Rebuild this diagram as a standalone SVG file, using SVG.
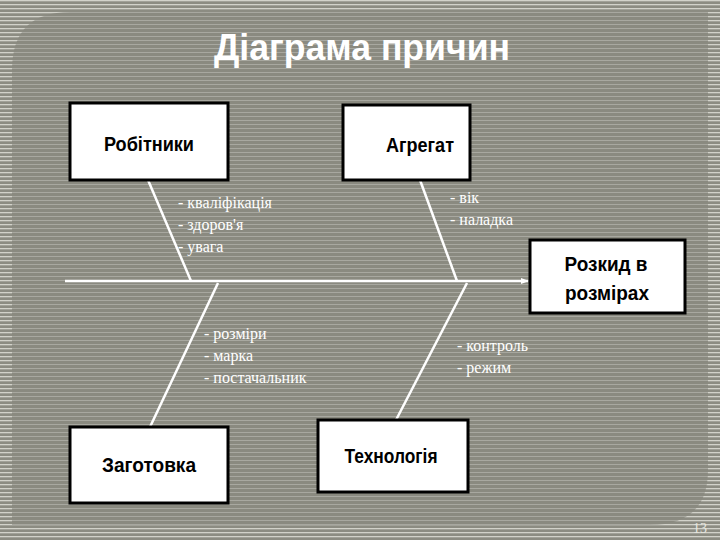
<svg xmlns="http://www.w3.org/2000/svg" width="720" height="540" viewBox="0 0 720 540">
<defs>
<pattern id="s1" width="4" height="4" patternUnits="userSpaceOnUse"><rect width="4" height="4" fill="#8c8c82"/><rect width="4" height="1.3" fill="#d2d2ca"/></pattern>
<pattern id="s2" width="4" height="4" patternUnits="userSpaceOnUse"><rect width="4" height="4" fill="#8a8a80"/><rect width="4" height="1" fill="#a8a8a0"/></pattern>
<marker id="ah" markerWidth="8" markerHeight="8" refX="7" refY="4" orient="auto" markerUnits="userSpaceOnUse"><path d="M0,1 L8,4 L0,7 Z" fill="#fff"/></marker>
<style>
.box{fill:#fff;stroke:#000;stroke-width:3}
.lbl{font-family:"Liberation Sans",sans-serif;font-weight:bold;font-size:21px;fill:#000;text-anchor:middle}
.note{font-family:"Liberation Serif",serif;font-size:16px;fill:#fff}
.ln{stroke:#fff;stroke-width:2.5;fill:none}
</style>
</defs>
<rect width="720" height="540" fill="url(#s1)"/>
<path d="M70,12 H708 V470 Q708,525 650,525 H12 V70 Q12,12 70,12 Z" fill="url(#s2)"/>
<text x="362" y="60" font-family="Liberation Sans, sans-serif" font-size="36" font-weight="bold" fill="#fff" text-anchor="middle" textLength="296" lengthAdjust="spacingAndGlyphs">Діаграма причин</text>
<g id="connectors">
<line class="ln" x1="65" y1="281" x2="528" y2="281" marker-end="url(#ah)"/>
<line class="ln" x1="148" y1="180" x2="191" y2="281"/>
<line class="ln" x1="420" y1="180" x2="457" y2="281"/>
<line class="ln" x1="218" y1="283" x2="150" y2="427"/>
<line class="ln" x1="467" y1="283" x2="396" y2="420"/>
</g>
<g id="robitnyky"><rect class="box" x="70" y="103" width="158" height="77"/><text class="lbl" x="149" y="151" textLength="90" lengthAdjust="spacingAndGlyphs">Робітники</text></g>
<g id="ahrehat"><rect class="box" x="343" y="105" width="127" height="75"/><text class="lbl" x="420" y="152" textLength="68" lengthAdjust="spacingAndGlyphs">Агрегат</text></g>
<g id="rozkyd"><rect class="box" x="530" y="240" width="155" height="73"/><text class="lbl" x="606" y="271" textLength="83" lengthAdjust="spacingAndGlyphs">Розкид в</text><text class="lbl" x="607" y="300" textLength="84" lengthAdjust="spacingAndGlyphs">розмірах</text></g>
<g id="zahotovka"><rect class="box" x="70" y="427" width="158" height="76"/><text class="lbl" x="149" y="472" textLength="94" lengthAdjust="spacingAndGlyphs">Заготовка</text></g>
<g id="tekhnolohiia"><rect class="box" x="318" y="420" width="150" height="72"/><text class="lbl" x="391" y="463" textLength="93" lengthAdjust="spacingAndGlyphs">Технологія</text></g>
<g id="notes">
<text class="note" x="178" y="208">- кваліфікація</text>
<text class="note" x="178" y="230">- здоров'я</text>
<text class="note" x="178" y="252">- увага</text>
<text class="note" x="450" y="203">- вік</text>
<text class="note" x="450" y="225">- наладка</text>
<text class="note" x="204" y="339">- розміри</text>
<text class="note" x="204" y="361">- марка</text>
<text class="note" x="204" y="383">- постачальник</text>
<text class="note" x="457" y="351">- контроль</text>
<text class="note" x="457" y="373">- режим</text>
</g>
<text x="700" y="533" font-family="Liberation Serif, serif" font-size="14" fill="#e8e8e0" text-anchor="middle">13</text>
</svg>
